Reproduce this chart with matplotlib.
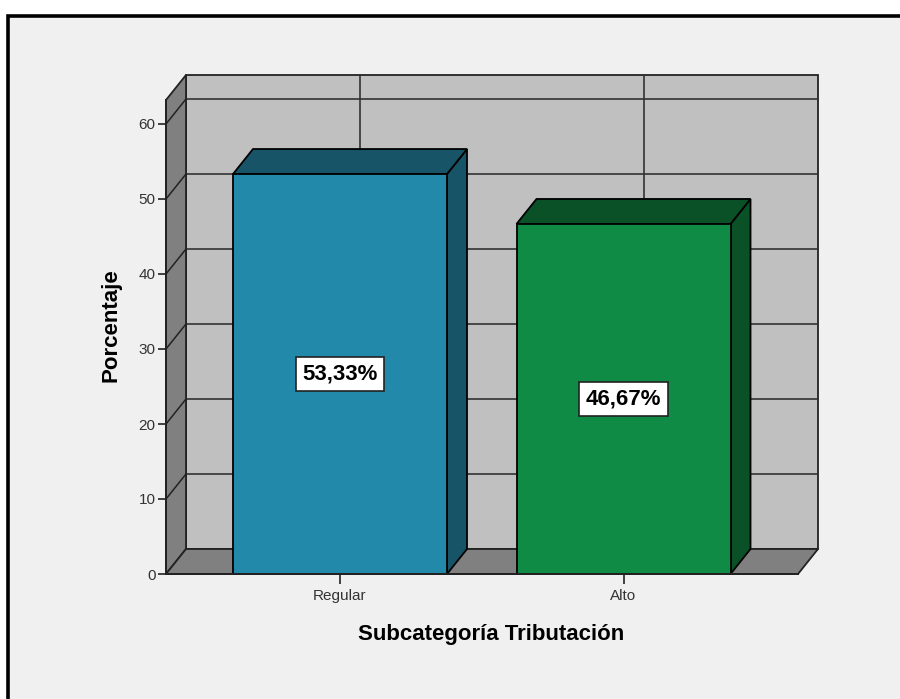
import matplotlib
matplotlib.use("Agg")
import matplotlib.pyplot as plt
from matplotlib.patches import Polygon, Rectangle

plt.rcParams['font.family'] = ['Liberation Sans', 'DejaVu Sans']

categories = ["Regular", "Alto"]
values = [53.33, 46.67]
value_labels = ["53,33%", "46,67%"]
yticks = [0, 10, 20, 30, 40, 50, 60]
xlabel = "Subcategoría Tributación"
ylabel = "Porcentaje"

front_colors = ["#2389AB", "#108B46"]
dark_colors = ["#185468", "#0A5128"]

W, H = 900, 699
fig = plt.figure(figsize=(W / 100, H / 100), dpi=100)
fig.patch.set_facecolor("white")

# background frame axes
bg = fig.add_axes([0, 0, 1, 1], zorder=-5)
bg.set_xlim(0, W)
bg.set_ylim(H, 0)
bg.axis("off")
bg.add_patch(Rectangle((7.5, 15.5), 1000, 1000, facecolor="#F0F0F0",
                       edgecolor="black", linewidth=2.6))

# axes region in pixels
x0p, x1p = 166, 817
ytop_p, ybot_p = 75.7, 574
ax = fig.add_axes([x0p / W, (H - ybot_p) / H, (x1p - x0p) / W, (ybot_p - ytop_p) / H])
ax.set_facecolor("none")

pxx = 283.5        # pixels per category unit
pxy = 7.5          # pixels per percent
xl = -174 / pxx
xr = xl + 632 / pxx
dx = 20 / pxx
dy = 25 / pxy
ytopf = (574 - 100) / pxy
ax.set_xlim(xl, xl + (x1p - x0p) / pxx)
ax.set_ylim(0, (ybot_p - ytop_p) / pxy)

edge = "#222222"
lw = 1.3
# back wall
ax.add_patch(Polygon([(xl + dx, dy), (xr + dx, dy), (xr + dx, ytopf + dy), (xl + dx, ytopf + dy)],
                     closed=True, facecolor="#C0C0C0", edgecolor=edge, linewidth=lw, zorder=1,
                     clip_on=False))
# horizontal gridlines on back wall
for t in yticks[1:]:
    ax.plot([xl + dx, xr + dx], [t + dy, t + dy], color="#333333", lw=1.2, zorder=2, clip_on=False)
# vertical gridlines on back wall
for i in range(len(categories)):
    ax.plot([i + dx, i + dx], [dy, ytopf + dy], color="#333333", lw=1.2, zorder=2, clip_on=False)
# left wall
ax.add_patch(Polygon([(xl, 0), (xl, ytopf), (xl + dx, ytopf + dy), (xl + dx, dy)],
                     closed=True, facecolor="#808080", edgecolor=edge, linewidth=lw, zorder=3,
                     clip_on=False))
for t in yticks[1:]:
    ax.plot([xl, xl + dx], [t, t + dy], color="#222222", lw=1.1, zorder=4, clip_on=False)
# floor
ax.add_patch(Polygon([(xl, 0), (xr, 0), (xr + dx, dy), (xl + dx, dy)],
                     closed=True, facecolor="#808080", edgecolor=edge, linewidth=lw, zorder=3,
                     clip_on=False))

bw = 214 / pxx
for i, (v, fc, dc, lab) in enumerate(zip(values, front_colors, dark_colors, value_labels)):
    l, r = i - bw / 2, i + bw / 2
    ax.add_patch(Polygon([(r, 0), (r + dx, dy), (r + dx, v + dy), (r, v)], closed=True,
                         facecolor=dc, edgecolor="black", linewidth=lw, zorder=5, clip_on=False))
    ax.add_patch(Polygon([(l, v), (r, v), (r + dx, v + dy), (l + dx, v + dy)], closed=True,
                         facecolor=dc, edgecolor="black", linewidth=lw, zorder=5, clip_on=False))
    ax.add_patch(Rectangle((l, 0), bw, v, facecolor=fc, edgecolor="black", linewidth=lw,
                           zorder=6, clip_on=False))
    ax.text(i, v / 2, lab, ha="center", va="center", fontsize=16, fontweight="bold",
            color="black", zorder=8,
            bbox=dict(boxstyle="square,pad=0.3", facecolor="white", edgecolor="#222222", linewidth=1.2))

for s in ["top", "right"]:
    ax.spines[s].set_visible(False)
ax.spines["left"].set_bounds(0, ytopf)
ax.spines["bottom"].set_bounds(xl, xr)
for s in ["left", "bottom"]:
    ax.spines[s].set_zorder(7)
    ax.spines[s].set_linewidth(1.4)
    ax.spines[s].set_color("#222222")
ax.set_yticks(yticks)
ax.set_xticks(range(len(categories)))
ax.set_xticklabels(categories)
ax.tick_params(axis="both", direction="out", length=5.5, width=1.2, color="#222222",
               labelsize=11, labelcolor="#333333", pad=2)
ax.tick_params(axis="x", length=7, pad=4)

ax.set_xlabel(xlabel, fontsize=16, fontweight="bold", labelpad=15)
ax.set_ylabel(ylabel, fontsize=16, fontweight="bold", labelpad=12)

fig.savefig("out.png", dpi=100, facecolor=fig.get_facecolor())
